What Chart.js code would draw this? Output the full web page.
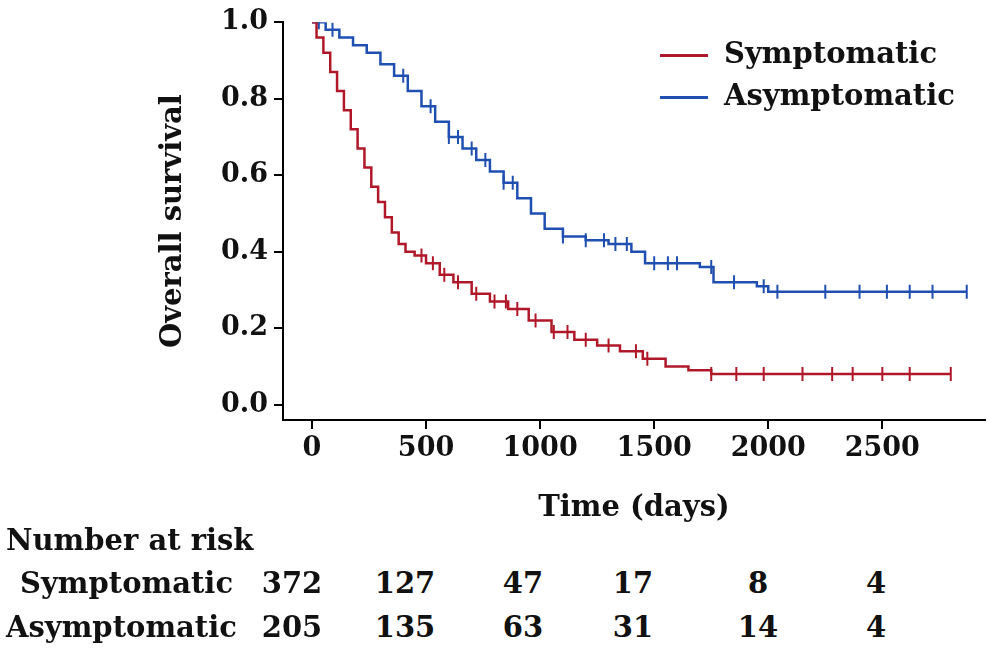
<!DOCTYPE html>
<html><head><meta charset="utf-8">
<script src="https://cdn.jsdelivr.net/npm/chart.js@4"></script>
<style>
body{margin:0;background:#fff;font-family:"DejaVu Serif",serif;font-weight:bold;}
#wrap{position:absolute;left:0;top:0;width:1000px;height:530px;}
.t{position:absolute;font-size:29px;color:#111;white-space:nowrap;}
.leg{position:absolute;font-size:29px;color:#111;white-space:nowrap;}
.leg span{display:inline-block;width:48px;height:3px;vertical-align:middle;margin-right:16px;}
</style></head><body>
<div id="wrap"><canvas id="c"></canvas></div>
<div class="leg" style="left:660px;top:36px"><span style="background:#b0182a"></span>Symptomatic</div>
<div class="leg" style="left:660px;top:78px"><span style="background:#1f4fb0"></span>Asymptomatic</div>
<div id="tbl"></div>
<script>
const symT=[0,20,50,80,110,140,170,200,230,260,290,320,350,380,410,450,500,560,620,700,780,860,950,1050,1150,1250,1350,1450,1550,1650,1750,2800];
const symS=[1.0,0.96,0.92,0.87,0.82,0.77,0.72,0.67,0.62,0.57,0.53,0.49,0.45,0.42,0.40,0.39,0.37,0.34,0.32,0.29,0.27,0.25,0.22,0.19,0.17,0.155,0.14,0.12,0.10,0.09,0.08,0.08];
const asyT=[0,60,120,180,240,300,360,420,480,540,600,660,720,780,840,900,960,1020,1100,1200,1300,1400,1460,1550,1700,1760,1950,2000,2870];
const asyS=[1.0,0.98,0.96,0.94,0.92,0.89,0.86,0.82,0.78,0.74,0.70,0.67,0.64,0.61,0.58,0.54,0.50,0.46,0.44,0.43,0.42,0.40,0.37,0.37,0.36,0.32,0.31,0.295,0.295];
const symCens=[480,530,580,640,720,800,850,900,980,1060,1120,1200,1300,1420,1470,1750,1860,1980,2150,2280,2370,2500,2620,2800];
const asyCens=[30,90,400,520,600,640,700,760,840,880,1100,1200,1280,1330,1380,1500,1560,1600,1750,1850,1980,2040,2250,2400,2520,2620,2720,2870];
const xTicks=[0,500,1000,1500,2000,2500];
const yTicks=[0,0.2,0.4,0.6,0.8,1.0];
const riskRows=["Symptomatic","Asymptomatic"];
const riskSym=[372,127,47,17,8,4];
const riskAsy=[205,135,63,31,14,4];

function stepAt(T,S,t){let v=S[0];for(let i=0;i<T.length;i++){if(T[i]<=t)v=S[i];}return v;}
const red='#b0182a',blue='#1f4fb0';
const pts=(T,S)=>T.map((t,i)=>({x:t,y:S[i]}));
const F='DejaVu Serif';
new Chart(document.getElementById('c'),{
 type:'scatter',
 data:{datasets:[
  {data:pts(symT,symS),showLine:true,stepped:'before',borderColor:red,borderWidth:2.5,pointRadius:0},
  {data:pts(asyT,asyS),showLine:true,stepped:'before',borderColor:blue,borderWidth:2.5,pointRadius:0},
  {data:symCens.map(t=>({x:t,y:stepAt(symT,symS,t)})),pointStyle:'line',rotation:90,radius:7,borderColor:red,borderWidth:2},
  {data:asyCens.map(t=>({x:t,y:stepAt(asyT,asyS,t)})),pointStyle:'line',rotation:90,radius:7,borderColor:blue,borderWidth:2}
 ]},
 options:{responsive:true,maintainAspectRatio:false,animation:false,
  layout:{padding:{top:0,right:15,left:152,bottom:0}},
  plugins:{legend:{display:false},tooltip:{enabled:false}},
  scales:{
   x:{type:'linear',min:-127,max:2950,
    afterBuildTicks:a=>{a.ticks=xTicks.map(v=>({value:v}));},
    afterFit:a=>{a.height=110;},
    grid:{drawOnChartArea:false,drawTicks:true,tickLength:9,color:'#000',lineWidth:2},
    border:{color:'#000',width:2},
    ticks:{color:'#111',font:{family:F,size:27,weight:'bold'},padding:4,callback:v=>String(v)},
    title:{display:true,text:'Time (days)',color:'#111',font:{family:F,size:29,weight:'bold'},padding:{top:0}}
   },
   y:{min:-0.04,max:1.0,
    afterBuildTicks:a=>{a.ticks=yTicks.map(v=>({value:v}));},
    afterFit:a=>{a.width=131;},
    grid:{drawOnChartArea:false,drawTicks:true,tickLength:9,color:'#000',lineWidth:2},
    border:{color:'#000',width:2},
    ticks:{color:'#111',font:{family:F,size:27,weight:'bold'},padding:6,callback:v=>v.toFixed(1)},
    title:{display:true,text:'Overall survival',color:'#111',font:{family:F,size:29,weight:'bold'},padding:{bottom:0}}
   }
  }
 }
});
const tbl=document.getElementById('tbl');
const cols=[292,405,523,633,758,876];
let h='<div class="t" style="left:6px;top:523px">Number at risk</div>';
h+=`<div class="t" style="left:20px;top:566px">${riskRows[0]}</div>`;
h+=`<div class="t" style="left:6px;top:610px">${riskRows[1]}</div>`;
riskSym.forEach((v,i)=>h+=`<div class="t" style="left:${cols[i]}px;top:566px;transform:translateX(-50%)">${v}</div>`);
riskAsy.forEach((v,i)=>h+=`<div class="t" style="left:${cols[i]}px;top:610px;transform:translateX(-50%)">${v}</div>`);
tbl.innerHTML=h;
</script></body></html>
